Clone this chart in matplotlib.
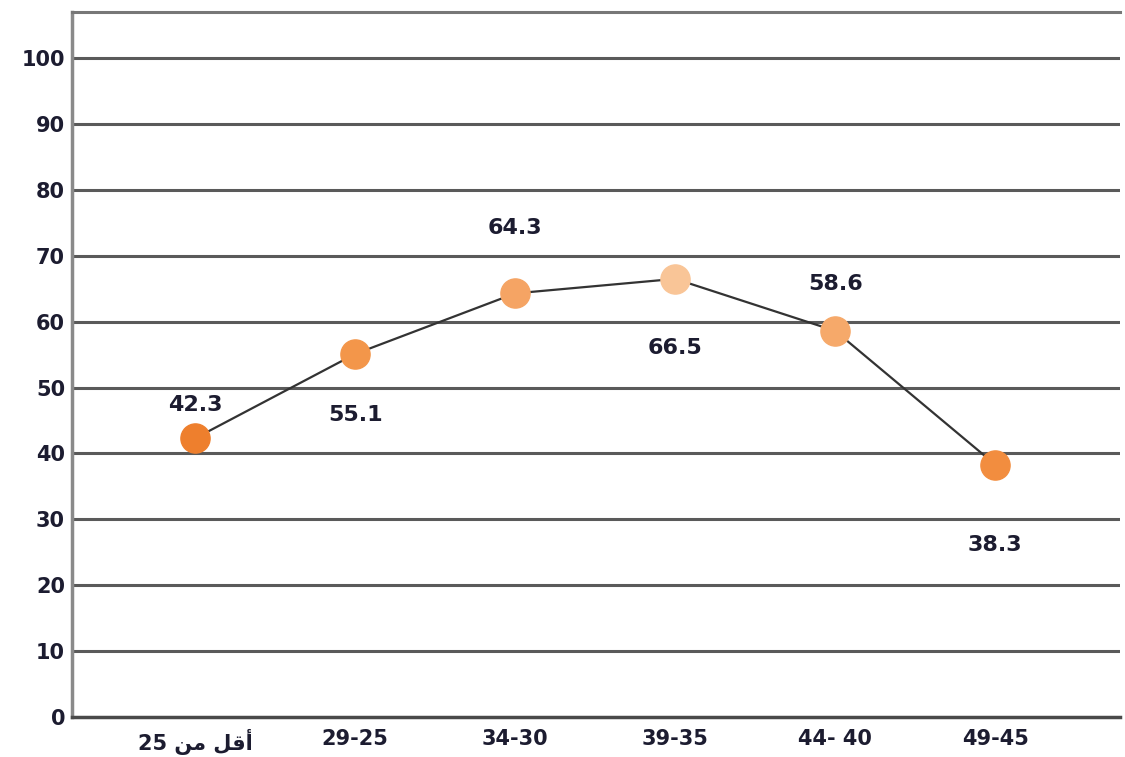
import matplotlib
matplotlib.use("Agg")
import matplotlib.pyplot as plt

# Data
categories = ["25 \uFEE6\uFEE3 \uFEDE\uFED7\uFE83", "29-25", "34-30", "39-35", "44- 40", "49-45"]
values = [42.3, 55.1, 64.3, 66.5, 58.6, 38.3]
value_labels = ["42.3", "55.1", "64.3", "66.5", "58.6", "38.3"]
y_ticks = [0, 10, 20, 30, 40, 50, 60, 70, 80, 90, 100]

# Styles
marker_colors = ["#EE7F2D", "#F3964A", "#F5A464", "#F9C597", "#F6A96A", "#F28D3F"]
label_offsets_pt = [24, -44, 47, -50, 34, -58]
text_color = "#1c1c30"

plt.rcParams['font.family'] = ['DejaVu Sans']

fig = plt.figure(figsize=(11.25, 7.57), dpi=100)
ax = fig.add_axes([0.064, 0.053, 0.9316, 0.931])

x = list(range(len(values)))
ax.plot(x, values, color="#333333", lw=1.6, zorder=3)
for xi, v, c in zip(x, values, marker_colors):
    ax.plot([xi], [v], marker="o", ms=21, color=c, mec=c, zorder=4, ls="none")

for xi, v, lab, off in zip(x, values, value_labels, label_offsets_pt):
    ax.annotate(lab, (xi, v), xytext=(0, off), textcoords="offset points",
                ha="center", va="center", fontsize=16, fontweight="bold",
                color=text_color)

ax.set_ylim(0, 107)
ax.set_xlim(-0.77, 5.78)
ax.set_yticks(y_ticks)
ax.set_yticklabels([str(t) for t in y_ticks], fontsize=15, fontweight="bold", color=text_color)
ax.set_xticks(x)
ax.set_xticklabels(categories, fontsize=15, fontweight="bold", color=text_color)
ax.tick_params(axis="both", length=0)
ax.tick_params(axis="y", pad=5)
ax.tick_params(axis="x", pad=9)

for t in y_ticks[1:]:
    ax.axhline(t, color="#5a5a5a", lw=2.2, zorder=1)

ax.spines["right"].set_visible(False)
ax.spines["top"].set_color("#777777")
ax.spines["top"].set_linewidth(2.2)
ax.spines["left"].set_color("#8a8a8a")
ax.spines["left"].set_linewidth(2.5)
ax.spines["bottom"].set_color("#4a4a4a")
ax.spines["bottom"].set_linewidth(2.5)

fig.savefig("out.png", dpi=100, facecolor="white")
